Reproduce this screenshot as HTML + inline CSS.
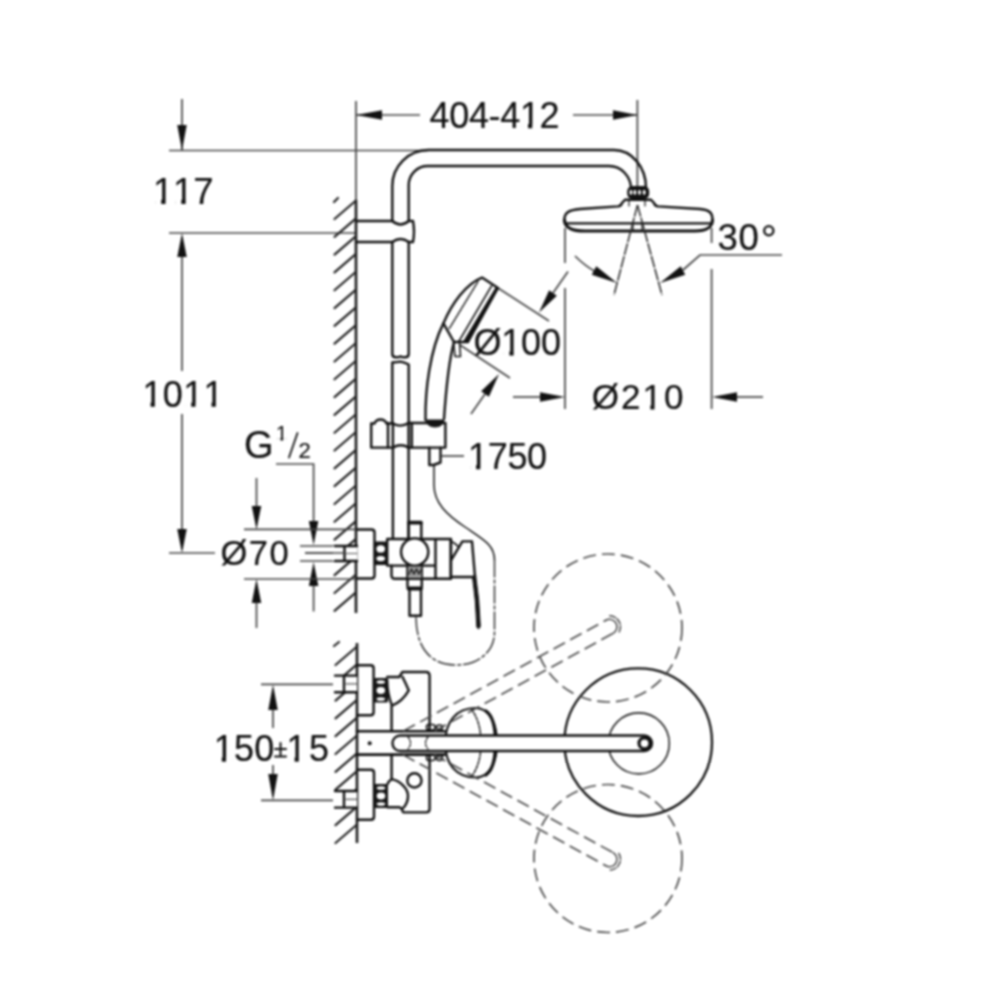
<!DOCTYPE html>
<html><head><meta charset="utf-8"><style>
html,body{margin:0;padding:0;background:#fff;}
svg{display:block;}
#wrap{filter:blur(1px);width:1000px;height:1000px;}
.o{fill:none;stroke:#111;stroke-width:2.4;stroke-linejoin:round;stroke-linecap:round;}
.fk{fill:#151515;stroke:#151515;stroke-width:1;}
.d{fill:none;stroke:#444;stroke-width:1.7;}
.w{stroke:#1a1a1a;stroke-width:2.6;}
.h{stroke:#222;stroke-width:2.2;stroke-linecap:round;}
.ar{fill:#111;stroke:none;}
.sp{stroke:#222;stroke-width:1.5;stroke-dasharray:12 1.2;}
.ds{fill:none;stroke:#4a4a4a;stroke-width:1.7;stroke-dasharray:13 6;}
text{font-kerning:none;font-family:"Liberation Sans",sans-serif;fill:#111;stroke:#111;stroke-width:0.2;}
</style></head><body><div id="wrap">
<svg width="1000" height="1000" viewBox="0 0 1000 1000">
<rect width="1000" height="1000" fill="#fff"/>
<line class="d" x1="182" y1="99" x2="182" y2="150" />
<polygon class="ar" points="182,150.5 177.25,125 186.75,125"/>
<line class="d" x1="169" y1="150.5" x2="428" y2="150.5" />
<text x="153" y="203.75" style="font-size:36.5px;letter-spacing:-0.2px" >117</text>
<line class="d" x1="169" y1="233" x2="356" y2="233" />
<polygon class="ar" points="182,233 186.75,257 177.25,257"/>
<line class="d" x1="182" y1="257" x2="182" y2="371" />
<line class="d" x1="182" y1="414" x2="182" y2="529" />
<polygon class="ar" points="182,553 177.25,529 186.75,529"/>
<text x="142.5" y="406.5" style="font-size:36px;letter-spacing:0.3px" >1011</text>
<line class="d" x1="169" y1="553" x2="215" y2="553" />
<line class="d" x1="356" y1="101" x2="356" y2="200" />
<line class="d" x1="356" y1="115" x2="420" y2="115" />
<polygon class="ar" points="356,115 382,110.25 382,119.75"/>
<text x="429.5" y="128" style="font-size:36px;letter-spacing:-0.33px" >404-412</text>
<line class="d" x1="573" y1="115" x2="637" y2="115" />
<polygon class="ar" points="637.4,115 613,119.75 613,110.25"/>
<line class="d" x1="637.4" y1="100" x2="637.4" y2="188" />
<line class="w" x1="356" y1="200" x2="356" y2="613" />
<line class="h" x1="334.5" y1="219" x2="356" y2="200.5" />
<line class="h" x1="334.5" y1="236.81" x2="356" y2="218.31" />
<line class="h" x1="334.5" y1="254.62" x2="356" y2="236.12" />
<line class="h" x1="334.5" y1="272.43" x2="356" y2="253.93" />
<line class="h" x1="334.5" y1="290.24" x2="356" y2="271.74" />
<line class="h" x1="334.5" y1="308.05" x2="356" y2="289.55" />
<line class="h" x1="334.5" y1="325.86" x2="356" y2="307.36" />
<line class="h" x1="334.5" y1="343.67" x2="356" y2="325.17" />
<line class="h" x1="334.5" y1="361.48" x2="356" y2="342.98" />
<line class="h" x1="334.5" y1="379.29" x2="356" y2="360.79" />
<line class="h" x1="334.5" y1="397.1" x2="356" y2="378.6" />
<line class="h" x1="334.5" y1="414.91" x2="356" y2="396.41" />
<line class="h" x1="334.5" y1="432.72" x2="356" y2="414.22" />
<line class="h" x1="334.5" y1="450.53" x2="356" y2="432.03" />
<line class="h" x1="334.5" y1="468.34" x2="356" y2="449.84" />
<line class="h" x1="334.5" y1="486.15" x2="356" y2="467.65" />
<line class="h" x1="334.5" y1="503.96" x2="356" y2="485.46" />
<line class="h" x1="334.5" y1="521.77" x2="356" y2="503.27" />
<line class="h" x1="334.5" y1="539.58" x2="356" y2="521.08" />
<line class="h" x1="334.5" y1="557.39" x2="356" y2="538.89" />
<line class="h" x1="334.5" y1="575.2" x2="356" y2="556.7" />
<line class="h" x1="334.5" y1="593.01" x2="356" y2="574.51" />
<line class="h" x1="334.5" y1="610.82" x2="356" y2="592.32" />
<line class="h" x1="334" y1="202" x2="338" y2="198" />
<line class="w" x1="357" y1="643" x2="357" y2="843" />
<line class="h" x1="335.5" y1="665" x2="357" y2="646.5" />
<line class="h" x1="335.5" y1="682.8" x2="357" y2="664.3" />
<line class="h" x1="335.5" y1="700.6" x2="357" y2="682.1" />
<line class="h" x1="335.5" y1="718.4" x2="357" y2="699.9" />
<line class="h" x1="335.5" y1="736.2" x2="357" y2="717.7" />
<line class="h" x1="335.5" y1="754" x2="357" y2="735.5" />
<line class="h" x1="335.5" y1="771.8" x2="357" y2="753.3" />
<line class="h" x1="335.5" y1="789.6" x2="357" y2="771.1" />
<line class="h" x1="335.5" y1="807.4" x2="357" y2="788.9" />
<line class="h" x1="335.5" y1="825.2" x2="357" y2="806.7" />
<line class="h" x1="335.5" y1="843" x2="357" y2="824.5" />
<line class="h" x1="334" y1="646" x2="339" y2="642" />
<path class="o" d="M392.3,221 V186 A36,36 0 0 1 428.3,150 H614 A32,38 0 0 1 646,188" />
<path class="o" d="M408.7,221 V185 A19,19 0 0 1 427.7,166 H609 A22,23 0 0 1 631,189" />
<rect x="627.2" y="186" width="22" height="13" rx="5.5" fill="#111"/>
<ellipse cx="630.9" cy="192.3" rx="1.4" ry="2.6" fill="#fff"/>
<ellipse cx="634.9" cy="192.3" rx="1.4" ry="2.6" fill="#fff"/>
<ellipse cx="639.5" cy="192.3" rx="1.4" ry="2.6" fill="#fff"/>
<ellipse cx="644.2" cy="192.3" rx="1.4" ry="2.6" fill="#fff"/>
<path class="o" d="M564.4,220 C564,212 570,210 580,209 L618,206.4 Q621,206 622,203 L625,199.8 H651 L654,203 Q655,206 658,206.4 L700,209 C710,210 712.5,213 712.5,220" />
<path class="o" d="M564.4,220 C565,227 570,231 585,231 H695 C708,231 712,227 712.5,220" style="stroke-width:3.2"/>
<path class="o" d="M565,223.4 H712" />
<path class="o" d="M629,201 V206 M645,201 V206 M633,224 V231 M642,224 V231" style="stroke-width:1.2"/>
<line class="sp" x1="637.5" y1="205" x2="614" y2="295" />
<line class="sp" x1="637.5" y1="205" x2="662" y2="295" />
<path class="d" d="M575,256 Q585,266 596,272" />
<polygon class="ar" points="617,283 591.73,274.67 596.27,266.33"/>
<path class="d" d="M683,270 L700,255 H782" />
<polygon class="ar" points="660,283 680.73,266.33 685.27,274.67"/>
<text x="717.4" y="250.2" style="font-size:36.5px;letter-spacing:0.8px" >30</text>
<circle cx="768.8" cy="230.8" r="4.6" class="o" style="stroke-width:2.3"/>
<line class="d" x1="565" y1="228" x2="565" y2="263" />
<line class="d" x1="565" y1="288" x2="565" y2="409" />
<line class="d" x1="711.6" y1="228" x2="711.6" y2="243" />
<line class="d" x1="711.6" y1="269" x2="711.6" y2="409" />
<line class="d" x1="513" y1="397" x2="540" y2="397" />
<polygon class="ar" points="565,397 540,401.75 540,392.25"/>
<line class="d" x1="737" y1="397" x2="763" y2="397" />
<polygon class="ar" points="712,397 737,392.25 737,401.75"/>
<text x="591.8" y="409.2" style="font-size:35px;letter-spacing:2px" >Ø210</text>
<line class="d" x1="498" y1="288" x2="549" y2="321" />
<line class="d" x1="460" y1="345" x2="510" y2="378" />
<line class="d" x1="568" y1="271.6" x2="553" y2="293" />
<polygon class="ar" points="539,312.5 549.14,290.23 556.86,295.77"/>
<line class="d" x1="471" y1="414" x2="485" y2="394" />
<polygon class="ar" points="499,374 488.89,396.72 481.11,391.28"/>
<text x="473.5" y="355.3" style="font-size:36px;letter-spacing:-0.2px" >Ø100</text>
<path class="o" d="M356,221 H392.3 Q400.5,228 408.7,221 H413 Q415,231.5 413,242 H408.7 Q400.5,236 392.3,242 H356" />
<path class="o" d="M392.3,242 V354 Q392.3,357.3 396,357.3 Q399.5,357.3 400.5,356.3 Q401.5,357.3 405,357.3 Q408.7,357.3 408.7,354 V242" />
<path class="o" d="M392.3,423 V362.5 Q397,362.2 400.5,361.6 Q404,362.2 408.7,364.5 V423" />
<path class="o" d="M392.9,447.6 V538.6 M408.6,447.6 V538.6" />
<path class="o" d="M425.5,420 C425,390 430,350 443.4,323.4 C452,303 466,284 482,277.6 L498,288" />
<path class="o" d="M444,419 C446,390 449,360 454,342" />
<path class="o" d="M478,281.5 L449,329" style="stroke-width:1.4;stroke-dasharray:3 1"/>
<path class="o" d="M491.5,286 L458.5,342" style="stroke-width:1.5"/>
<polygon points="495.5,287.5 499,288.5 469,342.5 462.5,342.5" fill="#111"/>
<path class="o" d="M443.4,323.4 L454,342 H468" />
<path class="o" d="M453.5,342 L455,356.5 H460.5 L459.5,342" style="stroke-width:1.6"/>
<path class="fk" d="M425.8,420 H444 Q443,427 435,427 Q427,427 425.8,420 Z"/>
<path class="o" d="M371.2,447.6 V423.5 H374.5 Q376,419.5 380.5,419.5 Q385,419.5 386.5,423.5 H392.9 Q400.8,428 408.6,423 H445.4 V447.6 H408.6 Q400.8,443 392.9,447.6 Z" />
<path class="o" d="M388,423 V447.6 M411.8,423 V447.6 M392.9,423 V447.6 M408.6,423 V447.6" />
<path class="o" d="M429.3,447.6 V465 H433.5 L440.5,462.5 V447.6" />
<line class="d" x1="441" y1="456" x2="464" y2="456" />
<text x="468" y="469" style="font-size:36px;letter-spacing:-0.33px" >1750</text>
<path class="o" d="M434,465 V485 C434,503 447,515 465,527 C484,540 494.5,545 494.5,560" style="stroke-width:1.5"/>
<path class="o" d="M494.5,560 V632 C494.5,652 478,665 456,665 C432,665 416,650 416,616" style="stroke:#333;stroke-width:1.5;stroke-dasharray:17 3 3 3"/>
<text x="244" y="458.25" style="font-size:38px;letter-spacing:0px" >G</text>
<text x="276" y="440.25" style="font-size:20.5px;letter-spacing:0px" >1</text>
<path class="o" d="M289,457.5 L297.5,433" style="stroke-width:1.8"/>
<text x="298.4" y="457.8" style="font-size:22px;letter-spacing:0px" >2</text>
<path class="d" d="M276,464 H313.6 V521" />
<polygon class="ar" points="313.6,545 308.85,521 318.35,521"/>
<polygon class="ar" points="313.6,562 318.35,586 308.85,586"/>
<line class="d" x1="313.6" y1="586" x2="313.6" y2="611.5" />
<line class="d" x1="256.5" y1="478" x2="256.5" y2="506" />
<polygon class="ar" points="256.5,529.4 251.75,506 261.25,506"/>
<polygon class="ar" points="256.5,579 261.25,603 251.75,603"/>
<line class="d" x1="256.5" y1="603" x2="256.5" y2="628" />
<line class="d" x1="244" y1="529.4" x2="357" y2="529.4" />
<line class="d" x1="244" y1="579" x2="357" y2="579" />
<text x="220.6" y="565" style="font-size:34.5px;letter-spacing:1.4px" >Ø70</text>
<line class="d" x1="300" y1="546" x2="344.5" y2="546" />
<line class="d" x1="305" y1="553" x2="344.5" y2="553" />
<line class="d" x1="300" y1="561" x2="344.5" y2="561" />
<rect x="333" y="546" width="24" height="15" fill="#fff"/>
<path class="o" d="M335,546 H357 M335,561 H357 M344.5,546 V561" style="stroke-width:2.4"/>
<path class="o" d="M346,553.5 H357" style="stroke-width:1.2;stroke:#555"/>
<line class="d" x1="305" y1="553" x2="344.5" y2="553" />
<path class="o" d="M357,529.5 H371.5 Q374.5,529.5 374.5,532.5 V575.5 Q374.5,578.5 371.5,578.5 H357" />
<rect x="373.8" y="541.5" width="14" height="23.5" rx="1.5" fill="#151515"/>
<ellipse cx="380.7" cy="548.9" rx="4.3" ry="3.6" fill="#fff"/>
<ellipse cx="380.7" cy="558.6" rx="4.3" ry="2.6" fill="#fff"/>
<path class="o" d="M387.2,539 H451 V578.8 H435.5 M435.5,539 V578.8 M387.2,539 V565.6 H435.5" />
<path class="o" d="M391.5,565.6 V575 Q391.5,578.8 395,578.8 H435.5" />
<path class="o" d="M408.6,539 V522 H421.3 V539" />
<path class="o" d="M408.6,523 H421.3" style="stroke-width:3"/>
<circle cx="414.7" cy="552" r="13.6" class="o" fill="#fff" style="fill:#fff"/>
<path class="o" d="M407.5,565.6 V578.8 H421.8 V565.6 M407.5,578.8 V586.5 M421.8,578.8 V586.5" />
<rect x="408" y="566.5" width="13.5" height="11.5" fill="#999"/>
<path class="o" d="M409,574 L411.5,569 L414,574 L416.5,569 L419,574 L421,570" style="stroke-width:1.3"/>
<path class="o" d="M408.5,588.5 H421" style="stroke-width:4"/>
<path class="o" d="M409.5,590 V615.7 H421 V590" />
<path class="o" d="M450.7,541 V577 H475 L472,541.4 H462.4 L451.6,559.4" />
<path class="o" d="M450.7,541 Q455,543 458.8,547" style="stroke-width:1.8"/>
<path class="fk" d="M472.5,577 L475.5,574 Q479.5,600 480.3,626 Q479,631 476.8,627 Q476,600 472.5,577 Z"/>
<line class="d" x1="261" y1="684.4" x2="344" y2="684.4" />
<line class="d" x1="261" y1="800.4" x2="344" y2="800.4" />
<polygon class="ar" points="273,684.4 277.75,710 268.25,710"/>
<line class="d" x1="273" y1="710" x2="273" y2="728" />
<polygon class="ar" points="273,800.4 268.25,774 277.75,774"/>
<line class="d" x1="273" y1="774" x2="273" y2="765" />
<text x="213.7" y="761.4" style="font-size:36px;letter-spacing:0.2px" >150</text>
<text x="286.5" y="761.4" style="font-size:36px;letter-spacing:2.6px" >15</text>
<path class="o" d="M275,749 H286 M280.5,743 V755 M275,756.5 H286" style="stroke-width:2"/>
<rect x="333" y="675.6" width="24" height="16.6" fill="#fff"/>
<path class="o" d="M335,675.6 H357 M335,692.2 H357 M344,675.6 V692.2" style="stroke-width:2.4"/>
<path class="o" d="M346,683.9 H357" style="stroke-width:1.2;stroke:#555"/>
<path class="o" d="M357,665.3 H370.6 Q373.6,665.3 373.6,668.3 V712.2 Q373.6,715.2 370.6,715.2 H357" />
<rect x="373.6" y="678" width="14.4" height="24.5" rx="1.5" fill="#151515"/>
<ellipse cx="380.8" cy="682" rx="4.3" ry="1.8" fill="#fff"/>
<ellipse cx="380.8" cy="690.5" rx="4.3" ry="3.4" fill="#fff"/>
<ellipse cx="380.8" cy="699" rx="4.3" ry="1.8" fill="#fff"/>
<path class="o" d="M387.2,677 H399.2 L402.4,672 H426 Q429.6,672 429.6,676 V731" />
<path class="o" d="M402.4,676.8 Q406,684 408.8,690.4 Q402,702 392,705.6 Q387.2,694 387.2,680 M391.6,705.6 V731" />
<rect x="333" y="791" width="24" height="16.6" fill="#fff"/>
<path class="o" d="M335,791 H357 M335,807.6 H357 M344,791 V807.6" style="stroke-width:2.4"/>
<path class="o" d="M346,799.3 H357" style="stroke-width:1.2;stroke:#555"/>
<path class="o" d="M357,769.7 H371 Q374,769.7 374,772.7 V816.8 Q374,819.8 371,819.8 H357" />
<rect x="374" y="784" width="14" height="24" rx="1.5" fill="#151515"/>
<ellipse cx="381" cy="788" rx="4.3" ry="1.8" fill="#fff"/>
<ellipse cx="381" cy="796" rx="4.3" ry="3.4" fill="#fff"/>
<ellipse cx="381" cy="804" rx="4.3" ry="1.8" fill="#fff"/>
<path class="o" d="M391.6,754.6 V779.2 Q388.5,781 387.6,784" />
<path class="o" d="M391.6,779.2 C400,781 408,788 408,796 C408,801 406,805 403.2,808" />
<path class="o" d="M387.6,807.3 H399.2 Q401.5,807.5 403.2,812.4 H426 Q429.6,812.4 429.6,809 V754.6" />
<circle cx="414.4" cy="780.4" r="7.1" class="o"/>
<path class="o" d="M357,731.2 H444.8 M357,754.6 H444.8" style="stroke-width:2.6"/>
<circle cx="369.7" cy="743.2" r="2" fill="#111"/>
<circle cx="638.2" cy="742.2" r="73.8" class="o" style="stroke-width:2.3"/>
<circle cx="638.8" cy="743.4" r="30.5" class="o" style="stroke-width:1.6;stroke:#222"/>
<rect x="426.5" y="724.5" width="8.5" height="5.5" rx="2.5" class="o" style="stroke-width:1.6"/>
<rect x="436.5" y="725.0" width="6" height="5" rx="2.4" class="o" style="stroke-width:1.6"/>
<rect x="426.5" y="755" width="8.5" height="5.5" rx="2.5" class="o" style="stroke-width:1.6"/>
<rect x="436.5" y="755.5" width="6" height="5" rx="2.4" class="o" style="stroke-width:1.6"/>
<path class="o" d="M445.2,743 C445.2,722 456,708 475.8,708 C490,708 497,725 497,743 C497,761 490,777.5 475.8,777.5 C456,777.5 445.2,764 445.2,743 Z" style="stroke-width:2.2"/>
<path class="o" d="M486,711 C493,716 495.5,728 495.5,743 C495.5,758 493,770 486,775" style="stroke-width:3.2"/>
<path class="o" d="M471.5,709.5 Q481,722 481,743 Q481,764 471.5,776.5" style="stroke-width:1.4;stroke-dasharray:3 1.5"/>
<path class="o" d="M400.25,735.5 H644.25 A7.75,7.75 0 0 1 644.25,751 H400.25 A7.75,7.75 0 0 1 400.25,735.5 Z" style="stroke-width:2.4;fill:#fff"/>
<path class="o" d="M408,737 Q413,743 408,749 M428,737 Q423,743 428,749" style="stroke-width:1.2;stroke-dasharray:2.5 1.5"/>
<circle cx="644.5" cy="743.3" r="5.5" class="o" style="stroke-width:3.2"/>
<circle cx="608" cy="628" r="74" class="ds"/>
<circle cx="608" cy="858.5" r="74" class="ds"/>
<line class="ds" x1="403.5" y1="730.99" x2="605.92" y2="620.26" />
<line class="ds" x1="434.6" y1="730.97" x2="613.08" y2="633.35" />
<path class="o" d="M605.92,620.26 A7.46,7.46 0 0 1 613.08,633.35" style="stroke:#444;stroke-width:1.5"/>
<path class="o" d="M609.75,615.85 A10.96,10.96 0 0 1 618.86,632.5" style="stroke:#444;stroke-width:1.5;stroke-dasharray:6 2"/>
<line class="ds" x1="434" y1="754.7" x2="613.08" y2="852.65" />
<line class="ds" x1="403" y1="754.74" x2="605.92" y2="865.74" />
<path class="o" d="M613.08,852.65 A7.46,7.46 0 0 1 605.92,865.74" style="stroke:#444;stroke-width:1.5"/>
<path class="o" d="M618.86,853.5 A10.96,10.96 0 0 1 609.75,870.15" style="stroke:#444;stroke-width:1.5;stroke-dasharray:6 2"/>
<rect x="155.19" y="200.1" width="17.15" height="5.11" fill="#fff"/>
<rect x="161.22" y="199.74" width="4.3" height="4.26" fill="#111"/>
<rect x="175.28" y="200.1" width="17.15" height="5.11" fill="#fff"/>
<rect x="181.31" y="199.74" width="4.3" height="4.26" fill="#111"/>
<rect x="144.66" y="402.9" width="16.92" height="5.04" fill="#fff"/>
<rect x="150.6" y="402.54" width="4.24" height="4.21" fill="#111"/>
<rect x="185.3" y="402.9" width="16.92" height="5.04" fill="#fff"/>
<rect x="191.24" y="402.54" width="4.24" height="4.21" fill="#111"/>
<rect x="205.61" y="402.9" width="16.92" height="5.04" fill="#fff"/>
<rect x="211.56" y="402.54" width="4.24" height="4.21" fill="#111"/>
<rect x="522.08" y="124.4" width="16.92" height="5.04" fill="#fff"/>
<rect x="528.02" y="124.04" width="4.24" height="4.21" fill="#111"/>
<rect x="644.59" y="405.7" width="16.45" height="4.9" fill="#fff"/>
<rect x="650.36" y="405.35" width="4.14" height="4.1" fill="#111"/>
<rect x="503.46" y="351.7" width="16.92" height="5.04" fill="#fff"/>
<rect x="509.4" y="351.34" width="4.24" height="4.21" fill="#111"/>
<rect x="470.16" y="465.4" width="16.92" height="5.04" fill="#fff"/>
<rect x="476.1" y="465.04" width="4.24" height="4.21" fill="#111"/>
<rect x="277.23" y="438.2" width="9.63" height="2.87" fill="#fff"/>
<rect x="280.51" y="438" width="2.63" height="2.5" fill="#111"/>
<rect x="215.86" y="757.8" width="16.92" height="5.04" fill="#fff"/>
<rect x="221.8" y="757.44" width="4.24" height="4.21" fill="#111"/>
<rect x="288.66" y="757.8" width="16.92" height="5.04" fill="#fff"/>
<rect x="294.6" y="757.44" width="4.24" height="4.21" fill="#111"/>
</svg></div></body></html>
